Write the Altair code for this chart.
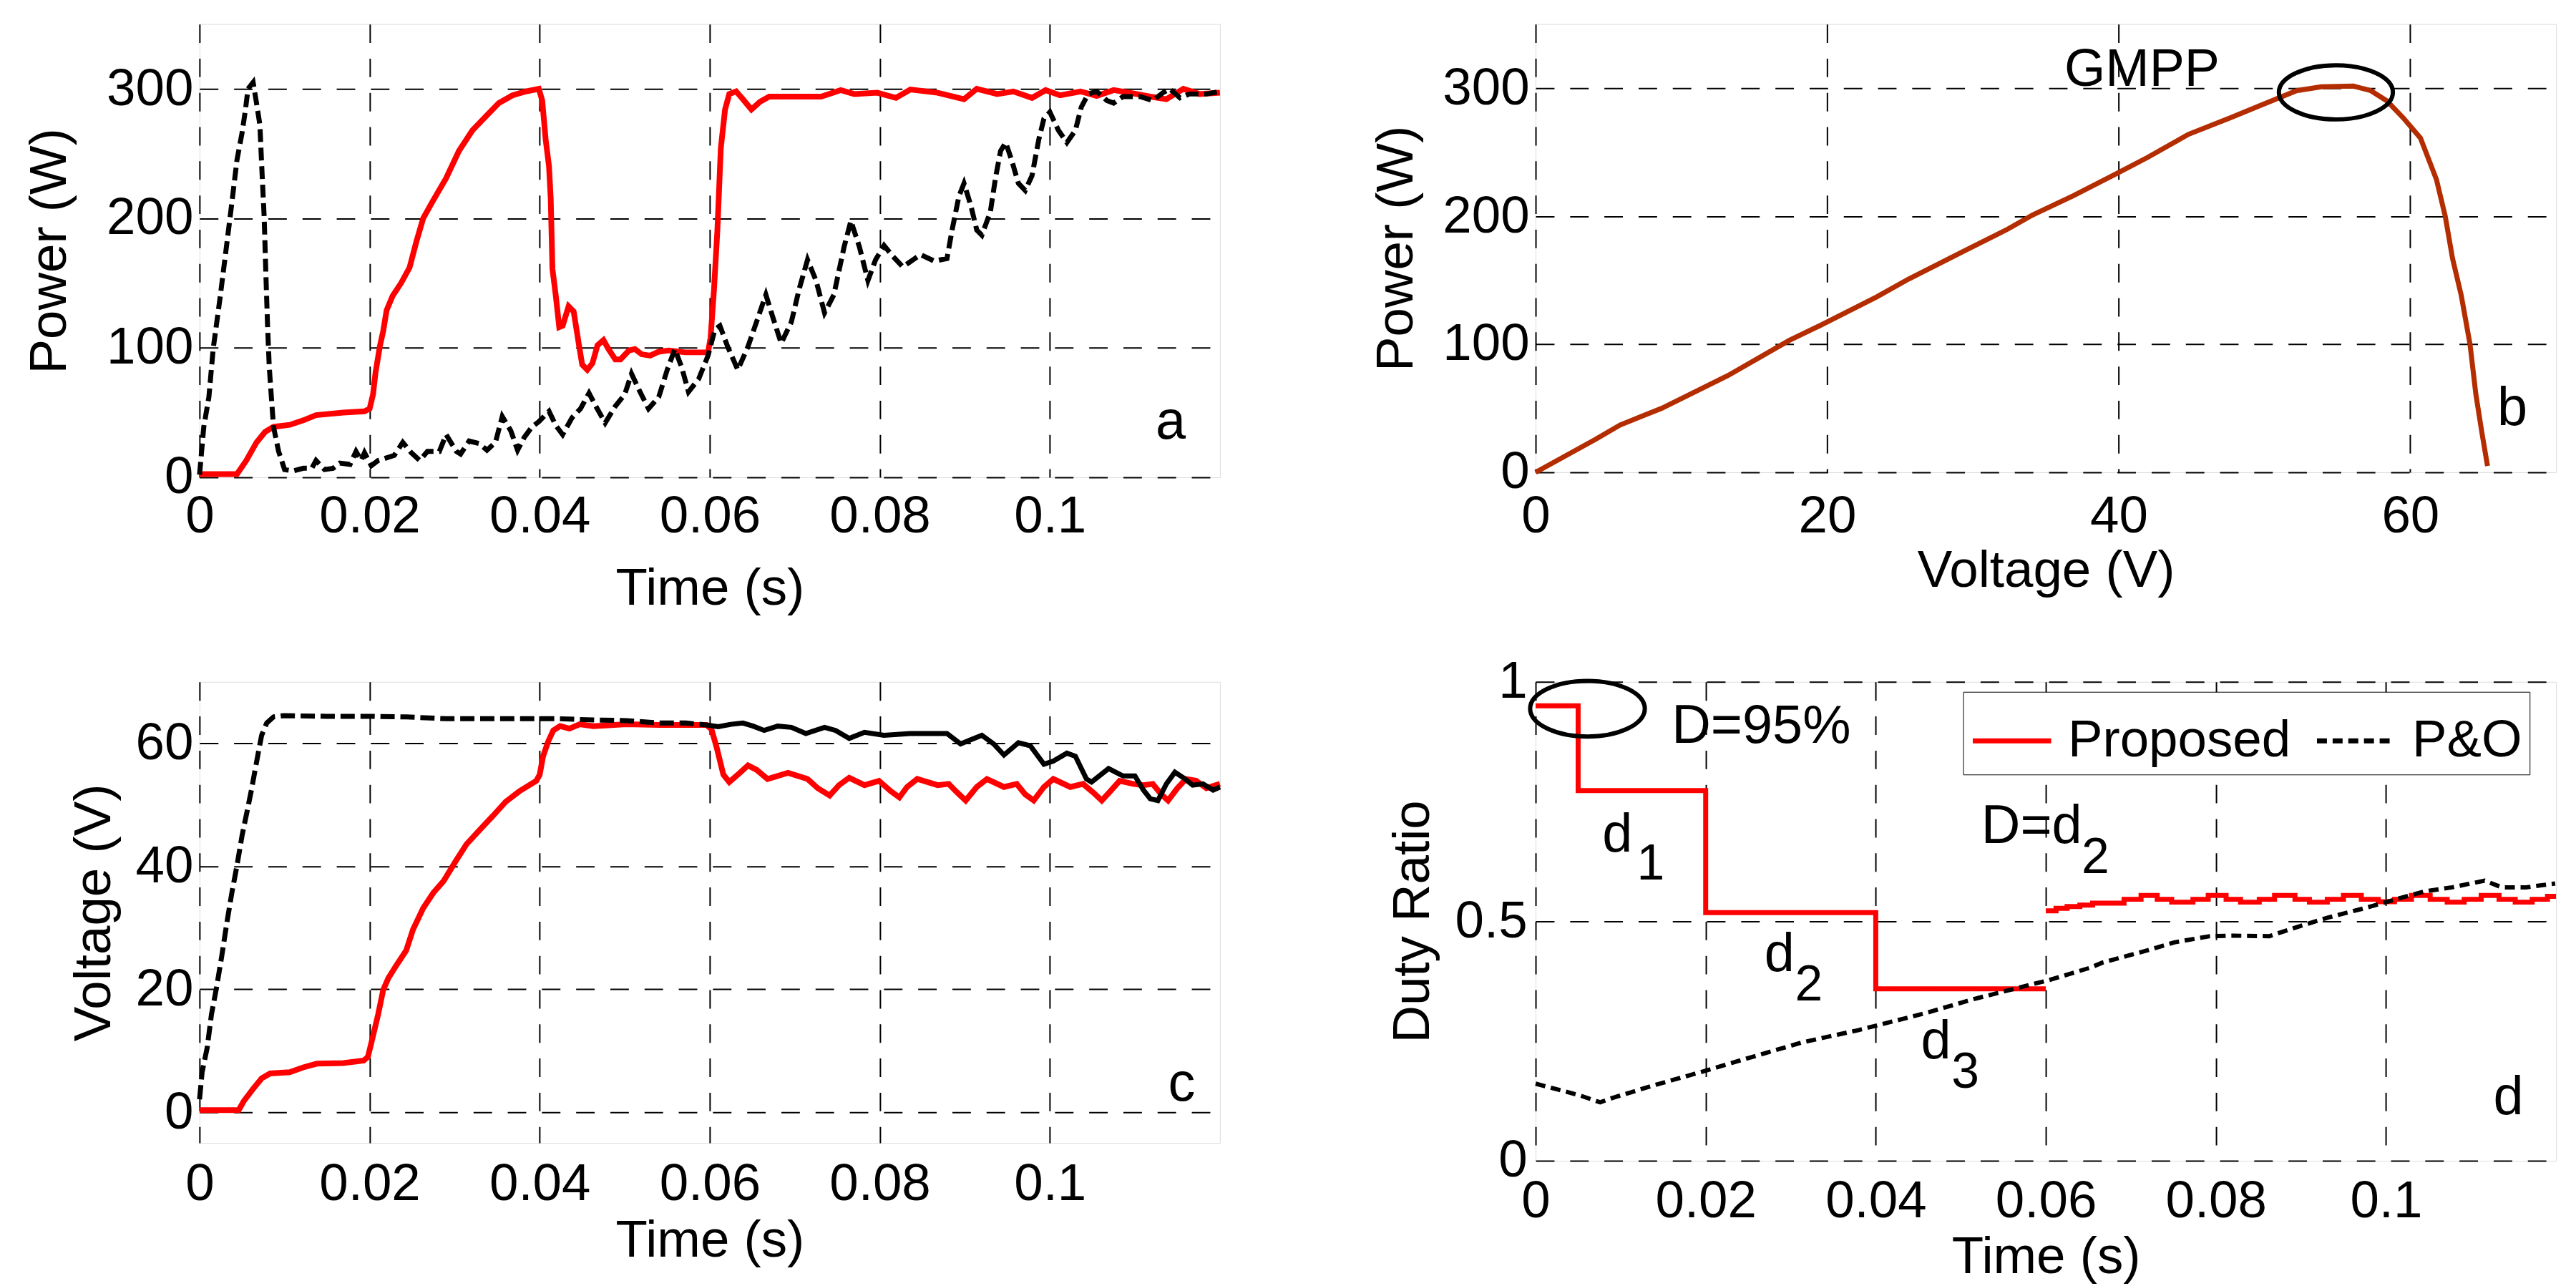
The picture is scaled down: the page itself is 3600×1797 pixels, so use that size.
import altair as alt
import pandas as pd

FONT = "Liberation Sans"
RED = "#ff0000"
BROWN = "#b32d00"

# ---------------- panel a : power vs time ----------------
a_prop_t = [0, 0.0044, 0.0055, 0.0067, 0.0077, 0.0087, 0.0106, 0.0122, 0.0137, 0.0169, 0.0194, 0.0200,
            0.0204, 0.0207, 0.0212, 0.0216, 0.0220, 0.0227, 0.0237, 0.0247, 0.0255, 0.0263, 0.0274,
            0.0290, 0.0305, 0.0321, 0.0337, 0.0352, 0.0368, 0.0384, 0.0399, 0.0403, 0.0407, 0.0411,
            0.0413, 0.0415, 0.0419, 0.0423, 0.0427, 0.0434, 0.0440, 0.0446, 0.0450, 0.0456, 0.0462,
            0.0468, 0.0475, 0.0481, 0.0489, 0.0495, 0.0505, 0.0512, 0.0520, 0.0530, 0.0540, 0.0552,
            0.0571, 0.0598, 0.0601, 0.0605, 0.0609, 0.0613, 0.0618, 0.0623, 0.0631, 0.0639, 0.0649,
            0.0659, 0.0670, 0.0700, 0.0731, 0.0754, 0.0770, 0.0797, 0.0819, 0.0836, 0.0868, 0.0899,
            0.0914, 0.0938, 0.0957, 0.0979, 0.0995, 0.1012, 0.1036, 0.1055, 0.1075, 0.1094, 0.1118,
            0.1137, 0.1157, 0.1176, 0.1200]
a_prop_p = [2.5, 2.5, 13, 27, 35, 39, 40.5, 44, 48, 50, 51, 53,
            64, 81, 101, 113, 129, 140, 150, 162, 182, 200, 213,
            231, 252, 268, 279, 289, 295, 298, 300, 291, 261, 240,
            215, 161, 140, 116, 117, 132, 128, 103, 87, 83, 88,
            102, 106, 99, 91, 91, 98, 99, 95, 94, 97, 98,
            96.5, 96.5, 108, 145, 191, 254, 284, 296, 298, 292, 284,
            290, 294, 294, 294, 299, 296, 297, 293, 299.5, 297, 292,
            300, 296, 298, 293, 299, 295, 298, 294.5, 299, 297, 294,
            292, 300, 296, 297]

a_po_t = [0, 0.0005, 0.0011, 0.0016, 0.0024, 0.0032, 0.0038, 0.0044, 0.0050, 0.0054, 0.0057, 0.0063,
          0.0067, 0.0071, 0.0073, 0.0076, 0.0078, 0.0080, 0.0082, 0.0085, 0.0087, 0.0093, 0.0100,
          0.0110, 0.0122, 0.0132, 0.0137, 0.0147, 0.0157, 0.0165, 0.0177, 0.0184, 0.0190, 0.0194,
          0.0202, 0.0210, 0.0222, 0.0229, 0.0239, 0.0249, 0.0259, 0.0268, 0.0282, 0.0290, 0.0302,
          0.0307, 0.0317, 0.0329, 0.0338, 0.0348, 0.0356, 0.0366, 0.0374, 0.0382, 0.0391, 0.0399,
          0.0411, 0.0419, 0.0427, 0.0438, 0.0448, 0.0458, 0.0466, 0.0477, 0.0489, 0.0500, 0.0508,
          0.0518, 0.0528, 0.0540, 0.0550, 0.0559, 0.0567, 0.0575, 0.0587, 0.0598, 0.0606, 0.0612,
          0.0621, 0.0633, 0.0645, 0.0655, 0.0666, 0.0674, 0.0684, 0.0696, 0.0705, 0.0715, 0.0725,
          0.0735, 0.0746, 0.0758, 0.0766, 0.0776, 0.0786, 0.0795, 0.0805, 0.0815, 0.0827, 0.0848,
          0.0864, 0.0879, 0.0885, 0.0893, 0.0899, 0.0907, 0.0914, 0.0920, 0.0930, 0.0936, 0.0942,
          0.0948, 0.0955, 0.0963, 0.0971, 0.0979, 0.0987, 0.0993, 0.1000, 0.1010, 0.1020, 0.1030,
          0.1037, 0.1045, 0.1055, 0.1067, 0.1075, 0.1086, 0.1106, 0.1121, 0.1133, 0.1141, 0.1153,
          0.1164, 0.1184, 0.1200]
a_po_p = [2, 39, 62, 99, 138, 180, 212, 245, 266, 284, 300, 305,
          289, 272, 242, 201, 157, 117, 85, 57, 39, 20, 6,
          5, 7, 7, 13, 6, 7, 11, 10, 20, 13, 19,
          9, 13, 15.5, 17, 27, 19, 13, 20, 20, 33, 20,
          18, 28, 26, 21, 27, 47, 36, 21, 31, 39, 43,
          51, 40, 33, 46, 53, 65, 55, 42, 55, 64, 80,
          66, 53, 62, 83, 99, 85, 66, 76, 94, 114, 117,
          101, 83, 101, 120, 141, 124, 103.5, 120, 145, 168, 152,
          127, 141, 178, 198, 178, 152, 168, 179, 171, 162.5, 172,
          167, 169, 191, 217, 227, 210, 191, 187, 205, 231, 252,
          258.5, 245, 227, 221.5, 233, 261, 277, 282, 268, 258.5, 268,
          286, 296, 298, 291, 289, 294, 294, 291, 297, 300, 293,
          296, 296, 298]

# ---------------- panel b : P-V curve ----------------
b_v = [0, 4.1, 5.8, 8.65, 13.2, 17.4, 19.4, 23.4, 25.6, 29.6, 32.4, 34.1, 36.9, 39.8, 42.0, 44.8,
       47.7, 49.4, 52.2, 53.9, 56.1, 57.3, 58.4, 59.5, 60.7, 61.8, 62.4, 62.9, 63.5, 64.1, 64.5,
       64.9, 65.3]
b_p = [0, 25.7, 37, 50, 75.6, 103, 114, 137, 151, 174, 190, 201, 216, 233, 246, 264,
       277, 285, 298, 301, 301.6, 298, 290, 277, 261, 228.5, 200, 167, 138, 100, 61,
       32, 5]

# ---------------- panel c : voltage vs time ----------------
c_prop_t = [0, 0.0046, 0.0052, 0.0063, 0.0073, 0.0083, 0.0106, 0.0122, 0.0138, 0.0169, 0.0193, 0.0198,
            0.0204, 0.0210, 0.0216, 0.0222, 0.0232, 0.0243, 0.0251, 0.0263, 0.0275, 0.0287, 0.0302,
            0.0314, 0.0330, 0.0345, 0.0360, 0.0376, 0.0396, 0.0400, 0.0404, 0.0410, 0.0416, 0.0424,
            0.0435, 0.0447, 0.0463, 0.0502, 0.0541, 0.0596, 0.0602, 0.0608, 0.0616, 0.0623, 0.0633,
            0.0645, 0.0655, 0.0668, 0.0692, 0.0715, 0.0727, 0.0741, 0.0752, 0.0764, 0.0782, 0.0799,
            0.0813, 0.0823, 0.0832, 0.0844, 0.0868, 0.0881, 0.0891, 0.0901, 0.0914, 0.0926, 0.0946,
            0.0961, 0.0971, 0.0981, 0.0993, 0.1004, 0.1024, 0.1039, 0.1051, 0.1061, 0.1071, 0.1082,
            0.1098, 0.1110, 0.1121, 0.1131, 0.1139, 0.1150, 0.1160, 0.1172, 0.1184, 0.1200]
c_prop_v = [0.35, 0.35, 1.8, 3.8, 5.5, 6.3, 6.5, 7.3, 7.9, 8.0, 8.4, 9.0,
            12.4, 15.9, 19.9, 21.8, 24.0, 26.3, 29.7, 33.2, 35.7, 37.6, 41.0,
            43.6, 46.0, 48.2, 50.5, 52.2, 53.9, 54.9, 57.9, 60.3, 62.1, 62.8,
            62.4, 63.1, 62.8, 63.1, 63.0, 63.0, 62.3, 59.4, 54.9, 53.7, 54.9,
            56.4, 55.7, 54.2, 55.2, 54.2, 52.7, 51.5, 53.2, 54.4, 53.2, 53.9,
            52.2, 51.2, 52.9, 54.2, 53.2, 53.4, 52.0, 50.7, 52.9, 54.2, 52.9,
            53.4, 51.7, 50.7, 52.9, 54.2, 52.9, 53.4, 52.0, 50.7, 52.2, 53.9,
            53.4, 53.2, 53.4, 51.7, 50.7, 52.7, 54.2, 53.9, 52.7, 53.4]

c_po_t = [0, 0.0003, 0.0009, 0.0014, 0.0020, 0.0026, 0.0032, 0.0038, 0.0044, 0.0050, 0.0056, 0.0061,
          0.0065, 0.0069, 0.0073, 0.0079, 0.0087, 0.0099, 0.0150, 0.0196, 0.0243, 0.0290, 0.0345,
          0.0423, 0.0463, 0.0502, 0.0541, 0.0572, 0.0596, 0.0610, 0.0625, 0.0639, 0.0651, 0.0664,
          0.0680, 0.0696, 0.0713, 0.0735, 0.0748, 0.0764, 0.0782, 0.0805, 0.0836, 0.0879, 0.0895,
          0.0911, 0.0920, 0.0934, 0.0946, 0.0963, 0.0977, 0.0993, 0.1004, 0.1020, 0.1030, 0.1043,
          0.1049, 0.1069, 0.1086, 0.1100, 0.1110, 0.1118, 0.1127, 0.1137, 0.1147, 0.1157, 0.1168,
          0.1180, 0.1192, 0.1200]
c_po_v = [2.1, 6.5, 10.5, 15.9, 20.3, 25.3, 30.7, 35.7, 40.1, 45.0, 49.0, 52.4,
          55.4, 58.4, 61.3, 63.3, 64.3, 64.5, 64.4, 64.4, 64.3, 64.0, 64.0,
          64.0, 63.8, 63.7, 63.3, 63.3, 63.0, 62.7, 63.1, 63.3, 62.8, 62.1,
          62.8, 62.6, 61.6, 62.6, 62.1, 60.8, 61.8, 61.3, 61.6, 61.6, 59.9,
          60.8, 61.3, 59.9, 58.1, 60.1, 59.6, 56.6, 57.1, 58.4, 57.9, 54.2,
          53.7, 55.9, 54.7, 54.7, 52.4, 51.0, 50.7, 53.4, 55.3, 54.4, 53.2,
          53.4, 52.4, 52.9]

# ---------------- panel d : duty ratio vs time ----------------
d_prop1_t = [0, 0.005, 0.02, 0.04, 0.06]
d_prop1_d = [0.95, 0.773, 0.518, 0.359, 0.359]
d_prop2_t = [0.0600, 0.0612, 0.0625, 0.0640, 0.0655, 0.0692, 0.0712, 0.0731, 0.0748, 0.0773, 0.0791,
             0.0812, 0.0829, 0.0851, 0.0869, 0.0893, 0.0910, 0.0931, 0.0950, 0.0971, 0.0991, 0.1010,
             0.1030, 0.1052, 0.1072, 0.1092, 0.1112, 0.1133, 0.1152, 0.1172, 0.1190, 0.1200]
d_prop2_d = [0.522, 0.527, 0.531, 0.534, 0.538, 0.546, 0.554, 0.546, 0.540, 0.546, 0.554,
             0.546, 0.540, 0.546, 0.554, 0.546, 0.540, 0.546, 0.554, 0.546, 0.541, 0.546,
             0.554, 0.546, 0.540, 0.546, 0.554, 0.546, 0.540, 0.546, 0.552, 0.552]
d_po_t = [0, 0.0032, 0.0051, 0.0076, 0.0090, 0.0138, 0.0198, 0.0255, 0.0313, 0.0380, 0.0400, 0.0458,
          0.0516, 0.0574, 0.0603, 0.0652, 0.0667, 0.0723, 0.0751, 0.0793, 0.0821, 0.0863, 0.0890,
          0.0932, 0.0974, 0.1002, 0.1044, 0.1078, 0.1116, 0.1136, 0.1165, 0.1199]
d_po_d = [0.161, 0.146, 0.137, 0.122, 0.131, 0.157, 0.187, 0.217, 0.247, 0.273, 0.282, 0.308,
          0.338, 0.364, 0.377, 0.403, 0.414, 0.441, 0.456, 0.469, 0.470, 0.469, 0.485,
          0.508, 0.527, 0.541, 0.562, 0.571, 0.585, 0.571, 0.571, 0.579]

SERIES = ["Proposed", "P&O"]

# ---------------- ticks / labels ----------------
time_ticks = [0, 0.02, 0.04, 0.06, 0.08, 0.1]
power_ticks = [0, 100, 200, 300]
volt_ticks_b = [0, 20, 40, 60]
volt_ticks_c = [0, 20, 40, 60]
duty_ticks = [0, 0.5, 1]

# annotation texts (panel letters & labels)
a_lab_t, a_lab_y, a_lab = [0.1142], [30], ["a"]
b_lab_t, b_lab_y, b_lab = [67.0], [37], ["b"]
c_lab_t, c_lab_y, c_lab = [0.1155], [1.93], ["c"]
d_lab_t, d_lab_y, d_lab = [0.1144], [0.0966], ["d"]
gmpp_t, gmpp_y, gmpp_lab = [41.6], [301.6], ["GMPP"]
gmpp_ell_t, gmpp_ell_y = [54.9], [296.7]
d_ell_t, d_ell_y = [0.0061], [0.944]
d_main_t = [0.016, 0.00785, 0.0269, 0.0453, 0.0524]
d_main_y = [0.872, 0.646, 0.396, 0.213, 0.663]
d_main_lab = ["D=95%", "d", "d", "d", "D=d"]
d_sub_t = [0.0119, 0.0305, 0.0489, 0.0642]
d_sub_y = [0.588, 0.335, 0.153, 0.601]
d_sub_lab = ["1", "2", "3", "2"]

ELLIPSE_B = "M-1,0A1,0.475,0,1,1,1,0A1,0.475,0,1,1,-1,0Z"
ELLIPSE_D = "M-1,0A1,0.485,0,1,1,1,0A1,0.485,0,1,1,-1,0Z"

LABEL_FS = 73
TITLE_FS = 73


def axis(title, values, fmt, lp, tp):
    return alt.Axis(title=title, values=values, format=fmt, labelPadding=lp, titlePadding=tp,
                    labelFont=FONT, labelFontSize=LABEL_FS, titleFont=FONT, titleFontSize=TITLE_FS,
                    titleFontWeight="normal", labelColor="black", titleColor="black",
                    domain=False, ticks=False, grid=True, gridColor="black",
                    gridDash=[26, 22], gridWidth=2, gridOpacity=1,
                    labelOverlap=False, labelFlush=False)


def df(t, y, **extra):
    d = pd.DataFrame({"t": t, "v": y})
    for k, val in extra.items():
        d[k] = val
    return d


def texts(t, y, labels, x_enc, y_enc, size, align):
    return alt.Chart(pd.DataFrame({"t": t, "v": y, "label": labels})).mark_text(
        font=FONT, fontSize=size, align=align, baseline="alphabetic", color="black"
    ).encode(x_enc, y_enc, text="label:N")


# ---------------- panel a ----------------
xa = alt.X("t:Q", scale=alt.Scale(domain=[0, 0.12], nice=False, zero=False),
           axis=axis("Time (s)", time_ticks, ".2~f", 19, 28))
ya = alt.Y("v:Q", scale=alt.Scale(domain=[0, 350], nice=False),
           axis=axis("Power (W)", power_ticks, "d", 9, 42))
pa = alt.layer(
    alt.Chart(df(a_prop_t, a_prop_p)).mark_line(color=RED, strokeWidth=8).encode(xa, ya),
    alt.Chart(df(a_po_t, a_po_p)).mark_line(color="black", strokeWidth=7,
                                            strokeDash=[18, 8]).encode(xa, ya),
    texts(a_lab_t, a_lab_y, a_lab, xa, ya, 76, "center"),
).properties(width=1432, height=636)

# ---------------- panel b ----------------
xb = alt.X("t:Q", scale=alt.Scale(domain=[0, 70], nice=False, zero=False),
           axis=axis("Voltage (V)", volt_ticks_b, "d", 26, 3))
yb = alt.Y("v:Q", scale=alt.Scale(domain=[0, 350], nice=False),
           axis=axis("Power (W)", power_ticks, "d", 9, 27))
pb = alt.layer(
    alt.Chart(df(b_v, b_p)).mark_line(color=BROWN, strokeWidth=7).encode(xb, yb),
    alt.Chart(df(gmpp_ell_t, gmpp_ell_y)).mark_point(
        shape=ELLIPSE_B, size=25600, filled=False, color="black", strokeWidth=6, opacity=1
    ).encode(xb, yb),
    texts(gmpp_t, gmpp_y, gmpp_lab, xb, yb, 74, "center"),
    texts(b_lab_t, b_lab_y, b_lab, xb, yb, 76, "center"),
).properties(width=1432, height=629)

# ---------------- panel c ----------------
xc = alt.X("t:Q", scale=alt.Scale(domain=[0, 0.12], nice=False, zero=False),
           axis=axis("Time (s)", time_ticks, ".2~f", 22, 6))
yc = alt.Y("v:Q", scale=alt.Scale(domain=[-5, 70], nice=False, zero=False),
           axis=axis("Voltage (V)", volt_ticks_c, "d", 9, 21))
c_po = df(c_po_t, c_po_v)
pc = alt.layer(
    alt.Chart(df(c_prop_t, c_prop_v)).mark_line(color=RED, strokeWidth=8).encode(xc, yc),
    alt.Chart(c_po).transform_filter("datum.t <= 0.0596").mark_line(
        color="black", strokeWidth=7, strokeDash=[20, 8]).encode(xc, yc),
    alt.Chart(c_po).transform_filter("datum.t >= 0.0596").mark_line(
        color="black", strokeWidth=7).encode(xc, yc),
    texts(c_lab_t, c_lab_y, c_lab, xc, yc, 76, "center"),
).properties(width=1432, height=647)

# ---------------- panel d ----------------
xd = alt.X("t:Q", scale=alt.Scale(domain=[0, 0.12], nice=False, zero=False),
           axis=axis("Time (s)", time_ticks, ".2~f", 21, 5))
yd = alt.Y("v:Q", scale=alt.Scale(domain=[0, 1], nice=False),
           axis=axis("Duty Ratio", duty_ticks, ".1~f", 12, 22))
legend_d = alt.Legend(orient="none", legendX=600, legendY=14, direction="horizontal",
                      title=None, labelFont=FONT, labelFontSize=73, labelColor="black",
                      labelLimit=1000,
                      symbolType="stroke", symbolSize=12100, symbolStrokeWidth=7,
                      labelOffset=20, columnPadding=22, padding=10,
                      strokeColor="black", fillColor="white")
col_d = alt.Color("series:N", scale=alt.Scale(domain=SERIES, range=[RED, "black"]),
                  legend=legend_d)
dash_d = alt.StrokeDash("series:N", scale=alt.Scale(domain=SERIES, range=[[1, 0], [14, 8]]),
                        legend=legend_d)
d_prop = pd.concat([df(d_prop1_t, d_prop1_d, seg="s1", series="Proposed"),
                    df(d_prop2_t, d_prop2_d, seg="s2", series="Proposed")])
d_po = df(d_po_t, d_po_d, seg="p", series="P&O")
pd_ = alt.layer(
    alt.Chart(d_prop).mark_line(interpolate="step-after", strokeWidth=7).encode(
        xd, yd, col_d, dash_d, detail="seg:N"),
    alt.Chart(d_po).mark_line(strokeWidth=6).encode(xd, yd, col_d, dash_d, detail="seg:N"),
    alt.Chart(df(d_ell_t, d_ell_y)).mark_point(
        shape=ELLIPSE_D, size=25900, filled=False, color="black", strokeWidth=6, opacity=1
    ).encode(xd, yd),
    texts(d_main_t, d_main_y, d_main_lab, xd, yd, 76, "left"),
    texts(d_sub_t, d_sub_y, d_sub_lab, xd, yd, 70, "left"),
    texts(d_lab_t, d_lab_y, d_lab, xd, yd, 76, "center"),
).properties(width=1432, height=672)

chart = alt.concat(
    pa, pb, pc, pd_, columns=2, bounds="flush", align="none",
    spacing={"row": 287, "column": 443}
).resolve_scale(
    color="independent", strokeDash="independent"
).properties(
    padding={"left": 25, "top": 21, "right": 5, "bottom": 5}
).configure_view(stroke="black", strokeWidth=2.5).configure(font=FONT, background="white")

chart.save("out.html", embed_options={"renderer": "svg", "actions": False})
